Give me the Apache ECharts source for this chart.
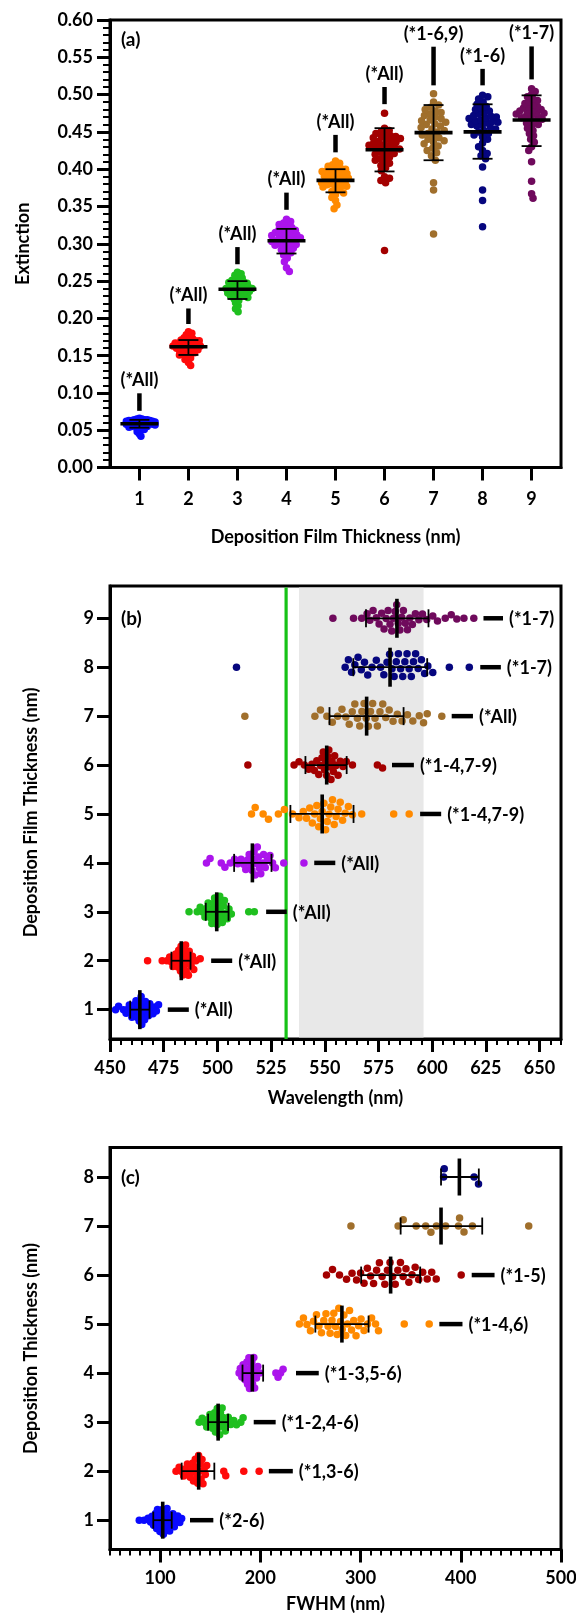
<!DOCTYPE html>
<html>
<head>
<meta charset="utf-8">
<script src="https://cdn.jsdelivr.net/npm/echarts@6/dist/echarts.min.js"></script>
<style>
  html, body { margin: 0; padding: 0; background: #fff; }
  #chart { width: 576px; height: 1613px; }
</style>
</head>
<body>
<div id="chart"></div>
<script>
// ---------- colours for deposition thickness 1–9 nm ----------
const groupColors = ['#0a0aff', '#ff0a0a', '#1fbf1f', '#ab14ec', '#ff8a00', '#a30000', '#a06f2c', '#06067e', '#6f0a5c'];

// ---------- (a) extinction ----------
const extThickness = [1, 2, 3, 4, 5, 6, 7, 8, 9];
const ext1 = [0.042,0.045,0.048,0.050,0.051,0.052,0.053,0.054,0.054,0.055,0.055,0.056,0.056,0.057,0.057,0.057,0.058,0.058,0.058,0.059,0.059,0.059,0.060,0.060,0.060,0.061,0.061,0.061,0.062,0.062,0.062,0.063,0.063,0.063,0.064,0.064,0.064,0.065,0.065,0.066];
const ext2 = [0.137,0.141,0.145,0.147,0.149,0.151,0.152,0.153,0.154,0.155,0.156,0.157,0.158,0.158,0.159,0.160,0.160,0.161,0.162,0.162,0.163,0.163,0.164,0.165,0.165,0.166,0.167,0.167,0.168,0.169,0.170,0.170,0.171,0.172,0.173,0.174,0.176,0.178,0.180,0.182];
const ext3 = [0.209,0.213,0.217,0.221,0.224,0.226,0.228,0.229,0.230,0.231,0.232,0.233,0.234,0.235,0.236,0.237,0.237,0.238,0.239,0.240,0.240,0.241,0.242,0.242,0.243,0.244,0.245,0.246,0.247,0.248,0.249,0.250,0.251,0.252,0.254,0.256,0.258,0.260,0.262];
const ext4 = [0.263,0.268,0.276,0.281,0.285,0.288,0.290,0.292,0.294,0.296,0.297,0.298,0.299,0.300,0.301,0.302,0.303,0.304,0.305,0.306,0.307,0.308,0.309,0.310,0.311,0.312,0.313,0.314,0.315,0.316,0.318,0.319,0.320,0.322,0.324,0.326,0.328,0.330,0.333];
const ext5 = [0.347,0.352,0.358,0.362,0.366,0.368,0.370,0.372,0.374,0.376,0.377,0.378,0.379,0.380,0.381,0.382,0.383,0.384,0.385,0.386,0.387,0.388,0.389,0.390,0.391,0.392,0.393,0.394,0.395,0.396,0.397,0.398,0.399,0.400,0.401,0.402,0.404,0.406,0.408,0.411];
const ext6 = [0.291,0.382,0.385,0.388,0.390,0.398,0.402,0.405,0.408,0.410,0.412,0.414,0.416,0.418,0.420,0.421,0.423,0.424,0.426,0.427,0.428,0.429,0.430,0.431,0.432,0.433,0.435,0.436,0.437,0.438,0.440,0.441,0.442,0.443,0.444,0.445,0.447,0.448,0.450,0.452,0.455,0.475];
const ext7 = [0.313,0.372,0.382,0.412,0.418,0.422,0.425,0.428,0.431,0.434,0.436,0.438,0.440,0.442,0.444,0.446,0.448,0.450,0.452,0.454,0.456,0.458,0.460,0.461,0.463,0.465,0.466,0.468,0.470,0.472,0.474,0.476,0.478,0.480,0.483,0.486,0.490,0.501];
const ext8 = [0.323,0.358,0.372,0.403,0.414,0.418,0.421,0.425,0.430,0.435,0.440,0.443,0.446,0.448,0.450,0.452,0.454,0.456,0.458,0.459,0.460,0.462,0.463,0.464,0.465,0.466,0.468,0.469,0.470,0.471,0.472,0.474,0.476,0.478,0.480,0.482,0.484,0.487,0.490,0.494,0.497,0.499];
const ext9 = [0.361,0.367,0.384,0.410,0.425,0.430,0.436,0.440,0.445,0.448,0.452,0.455,0.458,0.460,0.462,0.464,0.466,0.467,0.469,0.470,0.471,0.472,0.474,0.475,0.476,0.477,0.478,0.479,0.480,0.482,0.483,0.484,0.486,0.488,0.490,0.492,0.494,0.497,0.500,0.504,0.508];
const extMean   = [0.0588, 0.162, 0.239, 0.304, 0.385, 0.426, 0.449, 0.450, 0.466];
const extSdLow  = [0.0535, 0.151, 0.226, 0.287, 0.369, 0.397, 0.412, 0.414, 0.431];
const extSdHigh = [0.0640, 0.171, 0.250, 0.320, 0.400, 0.455, 0.486, 0.487, 0.499];
const extSig     = ['(*All)', '(*All)', '(*All)', '(*All)', '(*All)', '(*All)', '(*1-6,9)', '(*1-6)', '(*1-7)'];
const extSigLow  = [0.0761, 0.1925, 0.2726, 0.3456, 0.4226, 0.4872, 0.5124, 0.5124, 0.5204];
const extSigHigh = [0.0996, 0.2133, 0.2956, 0.3686, 0.4460, 0.5102, 0.5642, 0.5345, 0.5646];
const extTicksX = [1, 2, 3, 4, 5, 6, 7, 8, 9];

// ---------- (b) peak wavelength ----------
const wlThickness = [1, 2, 3, 4, 5, 6, 7, 8, 9];
const wl1 = [452.6,454.0,456.3,457.5,458.4,459.0,459.6,460.2,460.7,461.2,461.7,462.1,462.5,462.9,463.3,463.6,463.9,464.2,464.5,464.8,465.1,465.4,465.7,466.1,466.5,466.9,467.4,467.9,468.5,469.2,470.0,470.8,471.6,472.6];
const wl2 = [467.5,474.3,476.5,477.8,478.6,479.3,480.0,480.6,481.1,481.6,482.0,482.4,482.8,483.1,483.4,483.7,484.0,484.3,484.6,484.9,485.2,485.5,485.8,486.1,486.5,486.9,487.3,487.8,488.4,489.0,490.0,492.0];
const wl3 = [486.8,490.6,492.0,493.2,494.2,495.0,495.7,496.3,496.9,497.4,497.9,498.3,498.7,499.1,499.5,499.9,500.3,500.7,501.1,501.5,501.9,502.3,502.8,503.3,503.9,504.6,505.4,506.5,514.6,517.2];
const wl4 = [494.9,496.6,501.8,503.5,506.0,508.0,509.5,511.0,512.2,513.2,514.0,514.8,515.5,516.1,516.6,517.1,517.6,518.1,518.6,519.1,519.6,520.2,520.8,521.5,522.3,523.2,524.5,525.7,527.0,530.9,540.3];
const wl5 = [515.9,517.6,521.3,523.8,528.4,531.2,535.0,538.0,540.0,541.5,543.0,544.2,545.3,546.3,547.2,548.0,548.8,549.6,550.4,551.2,552.0,552.8,553.6,554.4,555.3,556.2,557.2,558.3,559.5,561.0,562.9,567.2,582.1,589.3];
const wl6 = [514.2,535.7,538.0,540.5,542.5,544.0,545.2,546.3,547.2,548.0,548.7,549.3,549.9,550.4,550.9,551.4,551.9,552.4,552.9,553.4,554.0,554.6,555.3,556.2,557.2,558.5,560.0,562.9,574.5,576.9];
const wl7 = [512.8,545.4,548.0,551.0,553.5,556.0,558.0,559.8,561.4,562.8,564.0,565.2,566.3,567.3,568.3,569.3,570.3,571.3,572.3,573.4,574.5,575.7,577.0,578.4,580.0,581.8,583.8,586.0,588.5,591.0,594.0,596.0,597.7,604.5];
const wl8 = [508.9,559.5,561.0,562.5,564.0,565.5,567.0,568.5,570.0,572.0,574.0,576.0,577.5,579.0,580.2,581.3,582.3,583.3,584.3,585.3,586.3,587.3,588.3,589.3,590.3,591.3,592.3,593.5,595.0,596.5,598.0,600.3,608.0,617.3];
const wl9 = [553.8,563.4,567.2,569.7,571.0,572.5,574.0,575.3,576.5,577.6,578.6,579.5,580.4,581.2,582.0,582.8,583.5,584.2,585.0,585.8,586.6,587.5,588.5,589.6,590.8,592.2,593.8,595.5,597.5,600.3,602.5,606.1,608.9,611.5,614.8,619.4];
const wlMean   = [463.9, 483.2, 499.7, 516.3, 548.8, 550.9, 569.5, 580.4, 583.6];
const wlSdLow  = [459.4, 478.6, 494.6, 507.8, 534.0, 541.0, 552.2, 563.3, 569.2];
const wlSdHigh = [468.4, 487.5, 505.2, 525.2, 563.4, 560.2, 586.7, 597.7, 598.3];
const wlSig     = ['(*All)', '(*All)', '(*All)', '(*All)', '(*1-4,7-9)', '(*1-4,7-9)', '(*All)', '(*1-7)', '(*1-7)'];
const wlSigLow  = [476.9, 497.1, 522.7, 545.1, 594.4, 581.3, 609.1, 622.4, 623.9];
const wlSigHigh = [486.7, 506.9, 532.3, 554.9, 604.2, 591.5, 619.0, 632.0, 633.0];
const laserWavelength = [532];
const shadedBand = [538, 596];
const wlTicksX = [450, 475, 500, 525, 550, 575, 600, 625, 650];
const wlTicksY = [1, 2, 3, 4, 5, 6, 7, 8, 9];

// ---------- (c) FWHM ----------
const fwThickness = [1, 2, 3, 4, 5, 6, 7, 8];
const fw1 = [79.2,84.0,88.0,90.5,92.0,93.5,94.5,95.5,96.5,97.4,98.2,99.0,99.8,100.5,101.2,101.9,102.6,103.3,104.0,104.7,105.4,106.1,106.9,107.7,108.6,109.5,110.5,111.6,112.8,114.2,115.8,117.6,119.6,121.5];
const fw2 = [115.9,119.0,121.5,123.5,125.5,127.2,128.7,130.0,131.2,132.3,133.3,134.2,135.1,136.0,136.8,137.6,138.4,139.2,140.0,140.9,141.8,142.8,143.9,145.1,146.5,163.5,165.5,183.5,198.8];
const fw3 = [138.9,142.0,144.5,146.5,148.2,149.7,151.0,152.2,153.3,154.3,155.2,156.1,157.0,157.8,158.6,159.4,160.2,161.0,161.9,162.8,163.8,165.0,166.3,168.0,170.5,173.5,176.2,180.5,182.8];
const fw4 = [178.8,180.0,181.5,182.8,184.0,185.0,185.8,186.6,187.3,188.0,188.6,189.2,189.8,190.4,191.0,191.6,192.2,192.8,193.5,194.3,195.2,196.2,197.5,199.5,215.5,217.7,220.2,222.7];
const fw5 = [239.0,243.0,246.5,250.0,253.0,256.0,258.5,261.0,263.3,265.5,267.6,269.6,271.5,273.3,275.0,276.7,278.3,280.0,281.7,283.4,285.2,287.0,289.0,291.0,293.2,295.5,298.0,300.5,303.5,307.0,311.0,315.0,317.9,343.6,368.5];
const fw6 = [266.0,272.0,279.0,286.0,291.5,296.0,300.0,303.5,306.8,310.0,313.0,316.0,318.8,321.5,324.2,326.8,329.4,332.0,334.6,337.2,339.8,342.5,345.3,348.2,351.3,354.5,358.0,362.0,366.5,371.0,375.5,400.4];
const fw7 = [290.4,337.5,342.6,355.5,365.0,370.2,375.7,384.9,397.7,398.8,403.2,411.6,467.8];
const fw8 = [382.9,383.5,413.3,417.7];
const fwMean   = [102.6, 138.5, 157.9, 192.0, 281.4, 330.0, 380.3, 398.6];
const fwSdLow  = [93.2, 121.5, 147.9, 182.2, 254.9, 300.6, 340.0, 380.3];
const fwSdHigh = [111.6, 154.1, 167.8, 202.8, 308.0, 359.5, 421.4, 418.0];
const fwSig     = ['(*2-6)', '(*1,3-6)', '(*1-2,4-6)', '(*1-3,5-6)', '(*1-4,6)', '(*1-5)'];
const fwSigLow  = [129.8, 208.5, 193.4, 235.6, 378.6, 410.9];
const fwSigHigh = [153.1, 232.4, 215.3, 258.3, 401.7, 433.7];
const fwTicksX = [100, 200, 300, 400, 500];
const fwTicksY = [1, 2, 3, 4, 5, 6, 7, 8];

// ---------- shared styling ----------
const FONT = 'Lato, "Open Sans", "DejaVu Sans", sans-serif';
const BLACK = '#000';
const DOT = 7.5;          // marker diameter, px
const SPACING = 8.2;      // preferred centre-to-centre gap inside a swarm, px
const SWARM_HALF = 16;    // max spread of a swarm from its centre, px

function labelStyle(extra) {
  return Object.assign({ color: BLACK, fontFamily: FONT, fontWeight: 'bold', fontSize: 18 }, extra || {});
}
const nameStyle = { color: BLACK, fontFamily: FONT, fontWeight: 'bold', fontSize: 18 };
const lineStyle3 = { color: BLACK, width: 3 };

function gridBox(top, height) {
  return { left: 110, right: 15, top: top, height: height, show: true, borderColor: BLACK, borderWidth: 3,
           backgroundColor: 'transparent', containLabel: false, outerBoundsMode: 'none' };
}

const xAxes = [
  // (a) thickness categories
  { gridIndex: 0, type: 'value', position: 'bottom', min: 0.4, max: 9.6, interval: 1,
    axisLine: { show: true, onZero: false, lineStyle: lineStyle3 },
    axisTick: { show: true, customValues: extTicksX, length: 13, lineStyle: lineStyle3 },
    axisLabel: labelStyle({ customValues: extTicksX, margin: 23 }),
    splitLine: { show: false },
    name: 'Deposition Film Thickness (nm)', nameLocation: 'middle', nameGap: 61, nameTextStyle: nameStyle, nameMoveOverlap: false },
  // (b) wavelength: fine ticks
  { gridIndex: 1, type: 'value', position: 'bottom', min: 450, max: 660, interval: 5,
    axisLine: { show: true, onZero: false, lineStyle: lineStyle3 },
    axisTick: { show: true, length: 6, lineStyle: { color: BLACK, width: 2 } },
    axisLabel: { show: false }, splitLine: { show: false } },
  // (b) wavelength: labelled ticks
  { gridIndex: 1, type: 'value', position: 'bottom', min: 450, max: 660, interval: 25,
    axisLine: { show: false, onZero: false },
    axisTick: { show: true, customValues: wlTicksX, length: 13, lineStyle: lineStyle3 },
    axisLabel: labelStyle({ customValues: wlTicksX, margin: 20 }),
    splitLine: { show: false },
    name: 'Wavelength (nm)', nameLocation: 'middle', nameGap: 50, nameTextStyle: nameStyle, nameMoveOverlap: false },
  // (c) FWHM: fine ticks
  { gridIndex: 2, type: 'value', position: 'bottom', min: 50, max: 500, interval: 10,
    axisLine: { show: true, onZero: false, lineStyle: lineStyle3 },
    axisTick: { show: true, length: 6, lineStyle: { color: BLACK, width: 2 } },
    axisLabel: { show: false }, splitLine: { show: false } },
  // (c) FWHM: labelled ticks
  { gridIndex: 2, type: 'value', position: 'bottom', min: 50, max: 500, interval: 50,
    axisLine: { show: false, onZero: false },
    axisTick: { show: true, customValues: fwTicksX, length: 13, lineStyle: lineStyle3 },
    axisLabel: labelStyle({ customValues: fwTicksX, margin: 20 }),
    splitLine: { show: false },
    name: 'FWHM (nm)', nameLocation: 'middle', nameGap: 46, nameTextStyle: nameStyle, nameMoveOverlap: false }
];

const yAxes = [
  { gridIndex: 0, type: 'value', position: 'left', min: 0, max: 0.6, interval: 0.05,
    axisLine: { show: true, onZero: false, lineStyle: lineStyle3 },
    axisTick: { show: true, length: 13, lineStyle: lineStyle3 },
    minorTick: { show: true, splitNumber: 5, length: 7, lineStyle: { color: BLACK, width: 2 } },
    axisLabel: labelStyle({ margin: 17, formatter: v => v.toFixed(2) }),
    splitLine: { show: false }, minorSplitLine: { show: false },
    name: 'Extinction', nameLocation: 'middle', nameGap: 78, nameRotate: 90, nameTextStyle: nameStyle, nameMoveOverlap: false },
  { gridIndex: 1, type: 'value', position: 'left', min: 0.4, max: 9.66, interval: 1,
    axisLine: { show: true, onZero: false, lineStyle: lineStyle3 },
    axisTick: { show: true, customValues: wlTicksY, length: 13, lineStyle: lineStyle3 },
    axisLabel: labelStyle({ customValues: wlTicksY, margin: 16 }),
    splitLine: { show: false },
    name: 'Deposition Film Thickness (nm)', nameLocation: 'middle', nameGap: 70, nameRotate: 90, nameTextStyle: nameStyle, nameMoveOverlap: false },
  { gridIndex: 2, type: 'value', position: 'left', min: 0.4, max: 8.6, interval: 1,
    axisLine: { show: true, onZero: false, lineStyle: lineStyle3 },
    axisTick: { show: true, customValues: fwTicksY, length: 13, lineStyle: lineStyle3 },
    axisLabel: labelStyle({ customValues: fwTicksY, margin: 16 }),
    splitLine: { show: false },
    name: 'Deposition Thickness (nm)', nameLocation: 'middle', nameGap: 70, nameRotate: 90, nameTextStyle: nameStyle, nameMoveOverlap: false }
];

function panelTag(text, x, y) {
  return { type: 'text', x: x, y: y, z: 10,
    style: { text: text, fill: BLACK, font: 'bold 19px ' + FONT, align: 'left', verticalAlign: 'middle',
             textAlign: 'left', textVerticalAlign: 'middle' } };
}

const chart = echarts.init(document.getElementById('chart'), null, { renderer: 'canvas', width: 576, height: 1613 });

chart.setOption({
  animation: false,
  backgroundColor: '#fff',
  grid: [gridBox(20, 447.6), gridBox(586, 453), gridBox(1147.6, 402)],
  xAxis: xAxes,
  yAxis: yAxes,
  graphic: [panelTag('(a)', 121, 40), panelTag('(b)', 121, 619), panelTag('(c)', 121, 1178)],
  series: []
});

// ---------- beeswarm layout (offsets perpendicular to the value axis, in px) ----------
function placeSwarm(pos, d) {
  const order = pos.map((_, i) => i).sort((a, b) => pos[a] - pos[b]);
  const placed = [];
  const offs = new Array(pos.length);
  let side = 1;
  for (const i of order) {
    const cands = [0];
    for (const p of placed) {
      const dv = Math.abs(pos[i] - p.v);
      if (dv < d) {
        const h = Math.sqrt(d * d - dv * dv);
        cands.push(p.o + h, p.o - h);
      }
    }
    cands.sort((a, b) => (Math.abs(a) - Math.abs(b)) || (side > 0 ? b - a : a - b));
    let best = 0;
    for (const c of cands) {
      let ok = true;
      for (const p of placed) {
        const dv = pos[i] - p.v, doff = c - p.o;
        if (dv * dv + doff * doff < d * d - 1e-6) { ok = false; break; }
      }
      if (ok) { best = c; break; }
    }
    offs[i] = best;
    placed.push({ v: pos[i], o: best });
    if (best !== 0) side = -Math.sign(best);
  }
  return offs;
}

function swarmOffsets(pos) {
  let d = SPACING;
  for (;;) {
    const offs = placeSwarm(pos, d);
    const spread = Math.max.apply(null, offs.map(Math.abs));
    if (spread <= SWARM_HALF || d <= 1.5) return offs;
    d -= 0.25;
  }
}

function px(axisKey, index, value) {
  const finder = {}; finder[axisKey] = index;
  return chart.convertToPixel(finder, value);
}

// Builds the scatter, error-bar and significance series of one panel.
function buildPanel(cfg) {
  const valAxis = cfg.vertical ? 'yAxisIndex' : 'xAxisIndex';
  const valIdx = cfg.vertical ? cfg.yAxisIndex : cfg.xAxisIndex;
  const catAxis = cfg.vertical ? 'xAxisIndex' : 'yAxisIndex';
  const catIdx = cfg.vertical ? cfg.xAxisIndex : cfg.yAxisIndex;
  const pxPerCat = Math.abs(px(catAxis, catIdx, 2) - px(catAxis, catIdx, 1));
  const out = [];

  cfg.groups.forEach((vals, g) => {
    const cat = cfg.cats[g];
    const pos = vals.map(v => px(valAxis, valIdx, v));
    const offs = swarmOffsets(pos);
    const data = vals.map((v, i) => {
      const c = cat + offs[i] / pxPerCat;
      return cfg.vertical ? [c, v] : [v, c];
    });
    out.push({
      type: 'scatter', xAxisIndex: cfg.xAxisIndex, yAxisIndex: cfg.yAxisIndex, silent: true, z: 2,
      symbol: 'circle', symbolSize: DOT, data: data,
      itemStyle: { color: groupColors[g], opacity: 1, borderWidth: 0 }
    });
  });

  // mean ± SD
  const statData = cfg.mean.map((m, g) => [cfg.cats[g], m, cfg.sdLow[g], cfg.sdHigh[g]]);
  out.push({
    type: 'custom', xAxisIndex: cfg.xAxisIndex, yAxisIndex: cfg.yAxisIndex, silent: true, z: 4,
    encode: cfg.vertical ? { x: 0, y: [1, 2, 3] } : { x: [1, 2, 3], y: 0 },
    data: statData,
    renderItem: (params, api) => {
      const cat = api.value(0);
      const P = v => cfg.vertical ? api.coord([cat, v]) : api.coord([v, cat]);
      const pm = P(api.value(1)), pl = P(api.value(2)), ph = P(api.value(3));
      const seg = (x1, y1, x2, y2, w) => ({ type: 'line', shape: { x1, y1, x2, y2 }, style: { stroke: BLACK, lineWidth: w } });
      const mh = cfg.meanHalf, ch = cfg.capHalf;
      if (cfg.vertical) {
        return { type: 'group', children: [
          seg(pl[0], pl[1], ph[0], ph[1], 1.8),
          seg(pl[0] - ch, pl[1], pl[0] + ch, pl[1], 1.8),
          seg(ph[0] - ch, ph[1], ph[0] + ch, ph[1], 1.8),
          seg(pm[0] - mh, pm[1], pm[0] + mh, pm[1], 3.6)
        ] };
      }
      return { type: 'group', children: [
        seg(pl[0], pl[1], ph[0], ph[1], 1.8),
        seg(pl[0], pl[1] - ch, pl[0], pl[1] + ch, 1.8),
        seg(ph[0], ph[1] - ch, ph[0], ph[1] + ch, 1.8),
        seg(pm[0], pm[1] - mh, pm[0], pm[1] + mh, 3.6)
      ] };
    }
  });

  // significance marks
  const sigData = cfg.sigLow.map((lo, g) => [cfg.cats[g], lo, cfg.sigHigh[g]]);
  out.push({
    type: 'custom', xAxisIndex: cfg.xAxisIndex, yAxisIndex: cfg.yAxisIndex, silent: true, z: 5,
    encode: cfg.vertical ? { x: 0, y: [1, 2] } : { x: [1, 2], y: 0 },
    data: sigData,
    renderItem: (params, api) => {
      const cat = api.value(0);
      const P = v => cfg.vertical ? api.coord([cat, v]) : api.coord([v, cat]);
      const p1 = P(api.value(1)), p2 = P(api.value(2));
      const text = cfg.sigText[params.dataIndex];
      const font = 'bold 18px ' + FONT;
      const label = cfg.vertical
        ? { type: 'text', style: { text, x: p2[0], y: p2[1] - 4, fill: BLACK, font,
              align: 'center', verticalAlign: 'bottom', textAlign: 'center', textVerticalAlign: 'bottom' } }
        : { type: 'text', style: { text, x: p2[0] + 6, y: p2[1] + 1, fill: BLACK, font,
              align: 'left', verticalAlign: 'middle', textAlign: 'left', textVerticalAlign: 'middle' } };
      return { type: 'group', children: [
        { type: 'line', shape: { x1: p1[0], y1: p1[1], x2: p2[0], y2: p2[1] }, style: { stroke: BLACK, lineWidth: 4.5 } },
        label
      ] };
    }
  });
  return out;
}

const series = [];

// shaded reference band and laser line in (b)
series.push({
  type: 'custom', xAxisIndex: 1, yAxisIndex: 1, silent: true, z: 0,
  encode: { x: [0, 1] }, data: [[shadedBand[0], shadedBand[1]]],
  renderItem: (params, api) => {
    const cs = params.coordSys;
    const x1 = api.coord([api.value(0), 1])[0], x2 = api.coord([api.value(1), 1])[0];
    return { type: 'rect', shape: { x: x1, y: cs.y + 1.5, width: x2 - x1, height: cs.height - 3 }, style: { fill: '#e8e8e8' } };
  }
});
series.push({
  type: 'custom', xAxisIndex: 1, yAxisIndex: 1, silent: true, z: 1,
  encode: { x: 0 }, data: [[laserWavelength[0]]],
  renderItem: (params, api) => {
    const cs = params.coordSys;
    const x = api.coord([api.value(0), 1])[0];
    return { type: 'line', shape: { x1: x, y1: cs.y + 1.5, x2: x, y2: cs.y + cs.height }, style: { stroke: '#17c217', lineWidth: 3.2 } };
  }
});

series.push.apply(series, buildPanel({
  vertical: true, xAxisIndex: 0, yAxisIndex: 0, cats: extThickness,
  groups: [ext1, ext2, ext3, ext4, ext5, ext6, ext7, ext8, ext9],
  mean: extMean, sdLow: extSdLow, sdHigh: extSdHigh,
  sigText: extSig, sigLow: extSigLow, sigHigh: extSigHigh,
  meanHalf: 19, capHalf: 10
}));
series.push.apply(series, buildPanel({
  vertical: false, xAxisIndex: 1, yAxisIndex: 1, cats: wlThickness,
  groups: [wl1, wl2, wl3, wl4, wl5, wl6, wl7, wl8, wl9],
  mean: wlMean, sdLow: wlSdLow, sdHigh: wlSdHigh,
  sigText: wlSig, sigLow: wlSigLow, sigHigh: wlSigHigh,
  meanHalf: 19.5, capHalf: 9
}));
series.push.apply(series, buildPanel({
  vertical: false, xAxisIndex: 3, yAxisIndex: 2, cats: fwThickness,
  groups: [fw1, fw2, fw3, fw4, fw5, fw6, fw7, fw8],
  mean: fwMean, sdLow: fwSdLow, sdHigh: fwSdHigh,
  sigText: fwSig, sigLow: fwSigLow, sigHigh: fwSigHigh,
  meanHalf: 18.5, capHalf: 8.5
}));

chart.setOption({ series: series });
</script>
</body>
</html>
